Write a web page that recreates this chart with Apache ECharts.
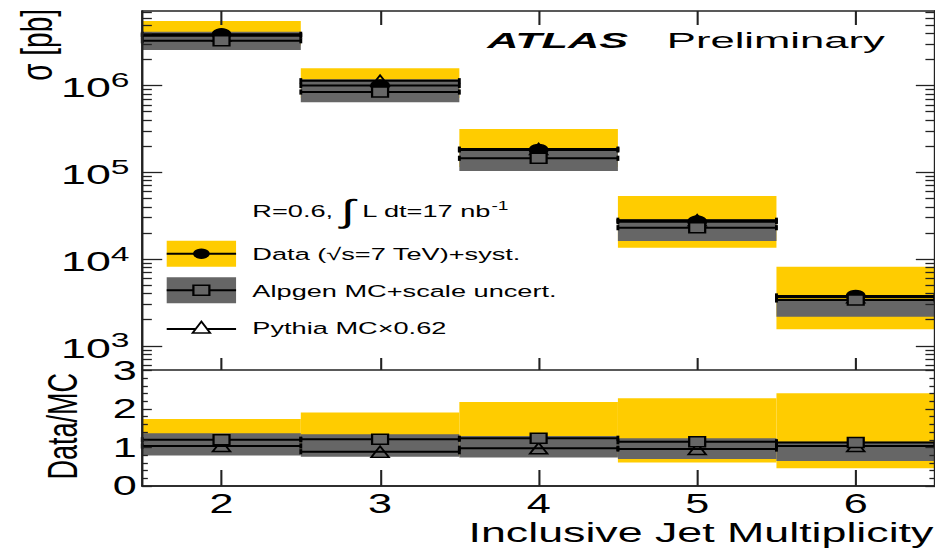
<!DOCTYPE html>
<html>
<head>
<meta charset="utf-8">
<script src="https://cdn.jsdelivr.net/npm/echarts@6/dist/echarts.min.js"></script>
<style>
  html, body { margin: 0; padding: 0; background: #fff; overflow: hidden; }
  /* the figure is laid out at 585 px wide and widened to the 935 px page */
  #chart { position: absolute; left: 0; top: 0; width: 585px; height: 548px;
           transform: scaleX(1.5983); transform-origin: 0 0; }
</style>
</head>
<body>
<div id="chart"></div>
<script>
// Inclusive jet multiplicity bins
const multiplicity = [2, 3, 4, 5, 6];

// Cross sections [pb]
const dataXsec      = [3.89e6, 1.00e6, 1.81e5, 2.70e4, 3.76e3];
const dataSystLo    = [2.90e6, 7.20e5, 1.15e5, 1.35e4, 1.55e3];
const dataSystHi    = [5.53e6, 1.58e6, 3.16e5, 5.33e4, 8.17e3];
const alpgenXsec    = [3.28e6, 8.41e5, 1.45e5, 2.30e4, 3.38e3];
const alpgenScaleLo = [2.56e6, 6.40e5, 1.035e5, 1.62e4, 2.17e3];
const alpgenScaleHi = [4.17e6, 1.18e6, 1.89e5, 2.85e4, 3.44e3];
const pythiaXsec    = [3.74e6, 1.135e6, 1.85e5, 2.80e4, 3.62e3];

// Data / MC ratios
const ratioAlpgen  = [1.20, 1.215, 1.24, 1.15, 1.13];
const ratioPythia  = [1.04, 0.89, 0.98, 0.96, 1.04];
const ratioSystLo  = [0.85, 0.82, 0.78, 0.61, 0.46];
const ratioSystHi  = [1.74, 1.91, 2.18, 2.28, 2.41];
const ratioScaleLo = [0.79, 0.76, 0.74, 0.70, 0.65];
const ratioScaleHi = [1.37, 1.345, 1.30, 1.24, 1.15];

// Tick values
const xTickValues = [2, 3, 4, 5, 6];
const decadeTicks = [1e3, 1e4, 1e5, 1e6];
const minorLogTicks = [];
for (let e = 2; e <= 6; e++) for (let m = 2; m <= 9; m++) minorLogTicks.push(m * Math.pow(10, e));

const X_MIN = 1.5, X_MAX = 6.5;
const Y_MIN = 527, Y_MAX = 7.22e6;
const YELLOW = '#ffcc00', GREY = '#666666';
const FONT = '"Liberation Sans", Arial, Helvetica, sans-serif';

const chart = echarts.init(document.getElementById('chart'), null, { renderer: 'svg' });

function bandItem(color) {
  return function (params, api) {
    const x = api.value(0), lo = api.value(1), hi = api.value(2);
    const p1 = api.coord([x - 0.5, hi]);
    const p2 = api.coord([x + 0.5, lo]);
    return { type: 'rect',
      shape: { x: p1[0], y: p1[1], width: p2[0] - p1[0], height: p2[1] - p1[1] },
      style: { fill: color } };
  };
}

function stepItem(params, api) {
  const x = api.value(0), v = api.value(1);
  const a = api.coord([x - 0.5, v]);
  const b = api.coord([x + 0.5, v]);
  const cap = (p) => ({ type: 'rect', shape: { x: p[0] - 0.9, y: p[1] - 2.6, width: 1.8, height: 5.2 },
                        style: { fill: '#000' } });
  return { type: 'group', children: [
    { type: 'line', shape: { x1: a[0], y1: a[1], x2: b[0], y2: b[1] },
      style: { stroke: '#000', lineWidth: 2 } },
    cap(a), cap(b) ] };
}

const pairs = (xs, ys) => xs.map((x, i) => [x, ys[i]]);
const triples = (xs, lo, hi) => xs.map((x, i) => [x, lo[i], hi[i]]);

const axisLineStyle = { show: true, lineStyle: { color: '#222', width: 1.5 } };
const tickStyle = { color: '#222', width: 1.3 };

function xAxisDef(grid, position, tickLen, withLabels, withTicks) {
  return {
    type: 'value', gridIndex: grid, position: position, min: X_MIN, max: X_MAX, z: 10,
    axisLine: axisLineStyle,
    splitLine: { show: false },
    axisTick: { show: withTicks, inside: true, length: tickLen, lineStyle: tickStyle, customValues: xTickValues },
    axisLabel: withLabels ? { show: true, customValues: xTickValues, margin: 4,
      fontFamily: FONT, fontSize: 27, color: '#000' } : { show: false }
  };
}

function logAxisDef(position, tickValues, tickLen, withLabels, withLine) {
  return {
    type: 'log', logBase: 10, gridIndex: 0, position: position, min: Y_MIN, max: Y_MAX, z: 10,
    axisLine: withLine ? axisLineStyle : { show: false },
    splitLine: { show: false },
    axisTick: { show: true, inside: true, length: tickLen, lineStyle: tickStyle, customValues: tickValues },
    axisLabel: withLabels ? {
      show: true, customValues: decadeTicks, margin: 8,
      formatter: (v) => '{b|10}{s|' + Math.round(Math.log10(v)) + '}',
      rich: {
        b: { fontFamily: FONT, fontSize: 28, color: '#000', lineHeight: 32, verticalAlign: 'bottom' },
        s: { fontFamily: FONT, fontSize: 21, color: '#000', lineHeight: 32, verticalAlign: 'top' }
      }
    } : { show: false }
  };
}

function ratioAxisDef(position, withLabels) {
  return {
    type: 'value', gridIndex: 1, position: position, min: 0, max: 3, interval: 1, z: 10,
    axisLine: axisLineStyle,
    splitLine: { show: false },
    axisTick: { show: true, inside: true, length: 6, lineStyle: tickStyle },
    minorTick: { show: true, splitNumber: 5, length: 3.5, lineStyle: tickStyle },
    axisLabel: withLabels ? { show: true, margin: 3.5, fontFamily: FONT, fontSize: 27, color: '#000',
      showMinLabel: true, showMaxLabel: true } : { show: false }
  };
}

function scatterSeries(name, xi, yi, data, symbol, size, fill, z) {
  return { name: name, type: 'scatter', xAxisIndex: xi, yAxisIndex: yi, data: data, z: z,
    symbol: symbol, symbolSize: size, silent: true,
    itemStyle: { color: fill, borderColor: '#000', borderWidth: 1.4, opacity: 1 } };
}

// text element helper: props may carry transform fields, styleExtra extends the text style
function text(t, x, y, size, props, styleExtra) {
  const style = Object.assign({ text: t, fontFamily: FONT, fontSize: size, fill: '#000',
    align: 'left', verticalAlign: 'middle', textAlign: 'left', textVerticalAlign: 'middle' }, styleExtra || {});
  return Object.assign({ type: 'text', x: x, y: y, style: style }, props || {});
}

const option = {
  animation: false,
  backgroundColor: '#fff',
  grid: [
    { left: 89, right: -1, top: 11, height: 359 },
    { left: 89, right: -1, top: 370.5, height: 115.5 }
  ],
  xAxis: [
    xAxisDef(0, 'bottom', 12, false, true),
    xAxisDef(0, 'top', 14, false, true),
    xAxisDef(1, 'bottom', 16, true, true),
    xAxisDef(1, 'top', 0, false, false)
  ],
  yAxis: [
    logAxisDef('left', decadeTicks, 12.5, true, true),
    logAxisDef('left', minorLogTicks, 6, false, false),
    logAxisDef('right', decadeTicks, 12, false, true),
    logAxisDef('right', minorLogTicks, 6, false, false),
    ratioAxisDef('left', true),
    ratioAxisDef('right', false)
  ],
  series: [
    // upper panel: cross sections
    { name: 'Data syst.', type: 'custom', xAxisIndex: 0, yAxisIndex: 0, z: 1, silent: true,
      renderItem: bandItem(YELLOW), data: triples(multiplicity, dataSystLo, dataSystHi) },
    { name: 'Alpgen scale uncert.', type: 'custom', xAxisIndex: 0, yAxisIndex: 0, z: 2, silent: true,
      renderItem: bandItem(GREY), data: triples(multiplicity, alpgenScaleLo, alpgenScaleHi) },
    { name: 'Pythia line', type: 'custom', xAxisIndex: 0, yAxisIndex: 0, z: 3, silent: true,
      renderItem: stepItem, data: pairs(multiplicity, pythiaXsec) },
    { name: 'Data line', type: 'custom', xAxisIndex: 0, yAxisIndex: 0, z: 3, silent: true,
      renderItem: stepItem, data: pairs(multiplicity, dataXsec) },
    { name: 'Alpgen line', type: 'custom', xAxisIndex: 0, yAxisIndex: 0, z: 3, silent: true,
      renderItem: stepItem, data: pairs(multiplicity, alpgenXsec) },
    scatterSeries('Pythia MC', 0, 0, pairs(multiplicity, pythiaXsec), 'triangle', 11, 'rgba(0,0,0,0)', 4),
    scatterSeries('Data', 0, 0, pairs(multiplicity, dataXsec), 'circle', 11, '#000', 5),
    scatterSeries('Alpgen MC', 0, 0, pairs(multiplicity, alpgenXsec), 'rect', 10, GREY, 6),

    // lower panel: Data / MC
    { name: 'Ratio syst.', type: 'custom', xAxisIndex: 2, yAxisIndex: 4, z: 1, silent: true,
      renderItem: bandItem(YELLOW), data: triples(multiplicity, ratioSystLo, ratioSystHi) },
    { name: 'Ratio scale', type: 'custom', xAxisIndex: 2, yAxisIndex: 4, z: 2, silent: true,
      renderItem: bandItem(GREY), data: triples(multiplicity, ratioScaleLo, ratioScaleHi) },
    { name: 'Ratio Alpgen line', type: 'custom', xAxisIndex: 2, yAxisIndex: 4, z: 3, silent: true,
      renderItem: stepItem, data: pairs(multiplicity, ratioAlpgen) },
    { name: 'Ratio Pythia line', type: 'custom', xAxisIndex: 2, yAxisIndex: 4, z: 3, silent: true,
      renderItem: stepItem, data: pairs(multiplicity, ratioPythia) },
    scatterSeries('Data/Pythia', 2, 4, pairs(multiplicity, ratioPythia), 'triangle', 11, 'rgba(0,0,0,0)', 4),
    scatterSeries('Data/Alpgen', 2, 4, pairs(multiplicity, ratioAlpgen), 'rect', 10, GREY, 6)
  ],
  graphic: { elements: [
    // axis titles
    text('\u03c3 [pb]', 22.5, 9, 28, { rotation: Math.PI / 2 }, { align: 'right', textAlign: 'right' }),
    text('Data/MC', 39, 373, 27, { rotation: Math.PI / 2 }, { align: 'right', textAlign: 'right' }),
    text('Inclusive Jet Multiplicity', 584, 532, 28, null, { align: 'right', textAlign: 'right' }),

    // experiment label
    text('ATLAS', 304.8, 40.5, 22, { scaleX: 1.23 }, { fontWeight: 'bold', fontStyle: 'italic' }),
    text('Preliminary', 417.2, 40.5, 22, { scaleX: 1.24 }),

    // luminosity note
    text('{t|R=0.6, }{i|\u222b}{t| L dt=17 nb}{u|-1}', 157.9, 211, 17, null, { rich: {
      t: { fontFamily: FONT, fontSize: 17, lineHeight: 34, verticalAlign: 'middle' },
      i: { fontFamily: FONT, fontSize: 32, lineHeight: 34, verticalAlign: 'middle' },
      u: { fontFamily: FONT, fontSize: 12, lineHeight: 34, verticalAlign: 'top', padding: [6, 0, 0, 0] }
    } }),

    // legend
    { type: 'rect', shape: { x: 104.3, y: 240.7, width: 43.4, height: 26 }, style: { fill: YELLOW } },
    { type: 'line', shape: { x1: 104.3, y1: 253.7, x2: 147.7, y2: 253.7 }, style: { stroke: '#000', lineWidth: 2 } },
    { type: 'circle', shape: { cx: 126, cy: 253.7, r: 5.2 }, style: { fill: '#000' } },
    text('Data (\u221as=7 TeV)+syst.', 157.9, 253.5, 17),

    { type: 'rect', shape: { x: 104.3, y: 277.3, width: 43.4, height: 26 }, style: { fill: GREY } },
    { type: 'line', shape: { x1: 104.3, y1: 290.3, x2: 147.7, y2: 290.3 }, style: { stroke: '#000', lineWidth: 2 } },
    { type: 'rect', shape: { x: 121, y: 285.3, width: 10, height: 10 }, style: { fill: GREY, stroke: '#000', lineWidth: 1.4 } },
    text('Alpgen MC+scale uncert.', 157.9, 290.8, 17),

    { type: 'line', shape: { x1: 104.3, y1: 329, x2: 147.7, y2: 329 }, style: { stroke: '#000', lineWidth: 2 } },
    { type: 'polygon', shape: { points: [[126, 321.5], [131.5, 333], [120.5, 333]] },
      style: { fill: '#fff', stroke: '#000', lineWidth: 1.4 } },
    text('Pythia MC\u00d70.62', 157.9, 328.3, 17)
  ] }
};

chart.setOption(option);
</script>
</body>
</html>
